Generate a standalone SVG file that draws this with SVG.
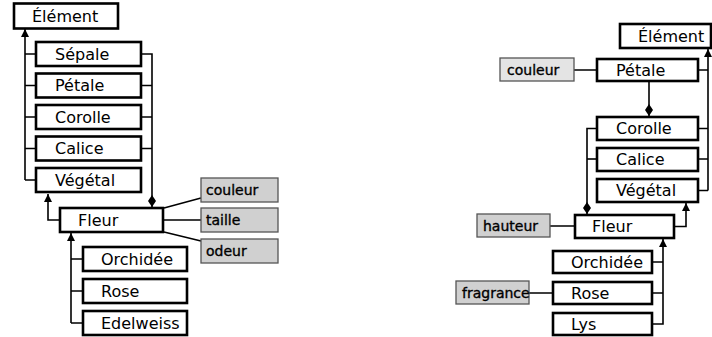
<svg xmlns="http://www.w3.org/2000/svg" width="712" height="337" viewBox="0 0 712 337">
<style>
.b{fill:#fff;stroke:#000;stroke-width:2.6}
.g{fill:#d0d0d0;stroke:#555;stroke-width:1.3}
.gl{fill:#e4e4e4;stroke:#555;stroke-width:1.3}
.t{font-family:"DejaVu Sans",sans-serif;font-size:16px;fill:#000}
.s{font-family:"DejaVu Sans",sans-serif;font-size:14px;fill:#000;stroke:#000;stroke-width:0.35}
.c{fill:none;stroke:#000;stroke-width:1.6}
</style>
<defs>
<marker id="ar" viewBox="0 0 10 10" refX="10" refY="5" markerWidth="8" markerHeight="8" markerUnits="userSpaceOnUse" orient="auto"><path d="M0,0 L10,5 L0,10 z" fill="#000"/></marker>
<marker id="di" viewBox="0 0 12 8" refX="12" refY="4" markerWidth="12" markerHeight="8" markerUnits="userSpaceOnUse" orient="auto"><path d="M0,4 L6,0 L12,4 L6,8 z" fill="#000"/></marker>
</defs>
<g id="connectors">
<path class="c" d="M25,180 L25,29" marker-end="url(#ar)"/>
<path class="c" d="M25,54 H36 M25,85.5 H36 M25,117 H36 M25,148.5 H36 M25,180 H36"/>
<path class="c" d="M141,54 H152 V207" marker-end="url(#di)"/>
<path class="c" d="M141,85.5 H152 M141,117 H152 M141,148.5 H152"/>
<path class="c" d="M60,220 H48 V194" marker-end="url(#ar)"/>
<path class="c" d="M71,323 V233" marker-end="url(#ar)"/>
<path class="c" d="M71,259 H83 M71,291 H83 M71,323 H83"/>
<path class="c" d="M164,208 L201,198 M164,220 H201 M164,232 L201,241"/>
<path class="c" d="M708,190.5 V49" marker-end="url(#ar)"/>
<path class="c" d="M698,70 H708 M698,128.5 H708 M698,159 H708 M698,190.5 H708"/>
<path class="c" d="M649,81 V116" marker-end="url(#di)"/>
<path class="c" d="M597,128.5 H587 V214" marker-end="url(#di)"/>
<path class="c" d="M587,159 H597"/>
<path class="c" d="M674,226.5 H686 V203" marker-end="url(#ar)"/>
<path class="c" d="M652,324 H663 V239" marker-end="url(#ar)"/>
<path class="c" d="M652,262 H663 M652,293 H663"/>
<path class="c" d="M574,70 H597 M550,226 H575 M529,293 H553"/>
</g>
<g id="L_element"><rect class="b" x="14" y="3.5" width="104" height="25"/><text class="t" x="32" y="21.5">Élément</text></g>
<g id="L_sepale"><rect class="b" x="36" y="42" width="105" height="24"/><text class="t" x="55" y="59.5">Sépale</text></g>
<g id="L_petale"><rect class="b" x="36" y="73.5" width="105" height="24"/><text class="t" x="55" y="91">Pétale</text></g>
<g id="L_corolle"><rect class="b" x="36" y="105" width="105" height="24"/><text class="t" x="55" y="122.5">Corolle</text></g>
<g id="L_calice"><rect class="b" x="36" y="136.5" width="105" height="24"/><text class="t" x="55" y="154">Calice</text></g>
<g id="L_vegetal"><rect class="b" x="36" y="168" width="105" height="24"/><text class="t" x="55" y="185.5">Végétal</text></g>
<g id="L_fleur"><rect class="b" x="60" y="208" width="103" height="24"/><text class="t" x="78" y="225.5">Fleur</text></g>
<g id="L_orchidee"><rect class="b" x="83" y="247" width="104" height="24"/><text class="t" x="101" y="264.5">Orchidée</text></g>
<g id="L_rose"><rect class="b" x="83" y="279" width="104" height="24"/><text class="t" x="101" y="296.5">Rose</text></g>
<g id="L_edelweiss"><rect class="b" x="83" y="311" width="104" height="24"/><text class="t" x="101" y="328.5">Edelweiss</text></g>
<g id="L_couleur"><rect class="g" x="201" y="178" width="77" height="24"/><text class="s" x="206" y="195">couleur</text></g>
<g id="L_taille"><rect class="g" x="201" y="208" width="77" height="24"/><text class="s" x="206" y="225">taille</text></g>
<g id="L_odeur"><rect class="g" x="201" y="239" width="77" height="24"/><text class="s" x="206" y="256">odeur</text></g>
<g id="R_element"><rect class="b" x="620" y="24" width="91" height="24"/><text class="t" x="638" y="41.5">Élément</text></g>
<g id="R_couleur"><rect class="gl" x="500" y="58" width="74" height="23"/><text class="s" x="507" y="74.5">couleur</text></g>
<g id="R_petale"><rect class="b" x="597" y="59" width="101" height="22"/><text class="t" x="616" y="75.5">Pétale</text></g>
<g id="R_corolle"><rect class="b" x="597" y="117" width="101" height="23"/><text class="t" x="616" y="134">Corolle</text></g>
<g id="R_calice"><rect class="b" x="597" y="148" width="101" height="23"/><text class="t" x="616" y="165">Calice</text></g>
<g id="R_vegetal"><rect class="b" x="597" y="179" width="101" height="23"/><text class="t" x="616" y="196">Végétal</text></g>
<g id="R_hauteur"><rect class="g" x="477" y="214" width="73" height="23"/><text class="s" x="483" y="230.5">hauteur</text></g>
<g id="R_fleur"><rect class="b" x="575" y="215" width="99" height="23"/><text class="t" x="592" y="232">Fleur</text></g>
<g id="R_orchidee"><rect class="b" x="553" y="251" width="99" height="22"/><text class="t" x="571" y="267.5">Orchidée</text></g>
<g id="R_fragrance"><rect class="g" x="456" y="281" width="73" height="23"/><text class="s" x="462" y="297.5">fragrance</text></g>
<g id="R_rose"><rect class="b" x="553" y="282" width="99" height="22"/><text class="t" x="571" y="298.5">Rose</text></g>
<g id="R_lys"><rect class="b" x="553" y="313" width="99" height="22"/><text class="t" x="571" y="329.5">Lys</text></g>
</svg>
